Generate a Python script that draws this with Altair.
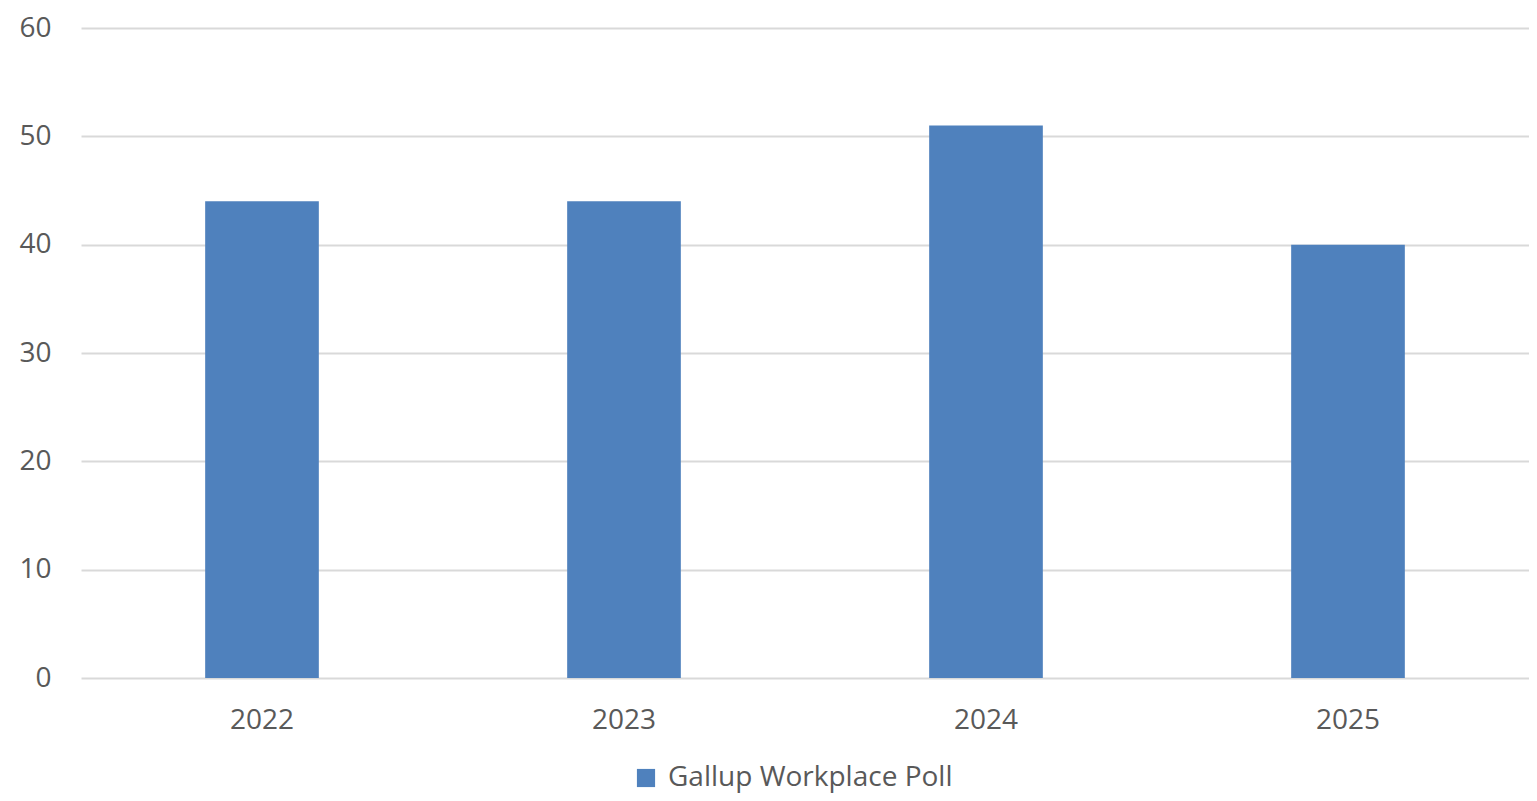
import altair as alt
import pandas as pd

years = ["2022", "2023", "2024", "2025"]
values = [44, 44, 51, 40]
series = "Gallup Workplace Poll"

df = pd.DataFrame({"year": years, "value": values, "series": [series] * len(years)})

FONT = "Open Sans"
TXT = "#595959"

chart = alt.Chart(df).mark_bar(color="#4f81bd").encode(
    x=alt.X("year:N", sort=years, title=None,
            scale=alt.Scale(paddingInner=0.686, paddingOuter=0.343),
            axis=alt.Axis(labelAngle=0, ticks=False, domain=False, labelPadding=28,
                          labelFontSize=28, labelColor=TXT, labelFont=FONT)),
    y=alt.Y("value:Q", title=None,
            scale=alt.Scale(domain=[0, 60], nice=False),
            axis=alt.Axis(values=[0, 10, 20, 30, 40, 50, 60], ticks=False, domain=False,
                          labelPadding=30, labelFontSize=28, labelColor=TXT, labelFont=FONT,
                          gridColor="#d9d9d9", gridWidth=2)),
    color=alt.Color("series:N", title=None,
                    scale=alt.Scale(domain=[series], range=["#4f81bd"]),
                    legend=alt.Legend(orient="none", legendX=551, legendY=736,
                                      symbolType="square", symbolSize=330,
                                      symbolStrokeWidth=0, labelFontSize=28,
                                      labelLimit=0,
                                      labelColor=TXT, labelFont=FONT, labelOffset=8)),
).properties(
    width=1448, height=650,
    autosize=alt.AutoSizeParams(type="none"),
    padding={"left": 73, "top": 20, "right": 0, "bottom": 115},
).configure_view(stroke=None)

chart.save("out.html", embed_options={"renderer": "svg", "actions": False})
